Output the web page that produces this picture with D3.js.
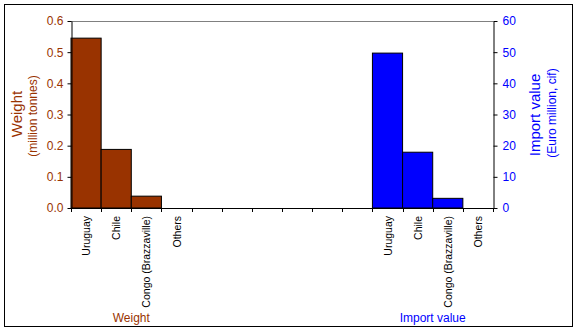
<!DOCTYPE html>
<html><head><meta charset="utf-8">
<script src="https://cdn.jsdelivr.net/npm/d3@7"></script>
<style>body{margin:0;background:#fff}svg text{font-family:"Liberation Sans",Arial,sans-serif}</style>
</head><body><svg id="c" width="577" height="332"></svg>
<script>
const categories = ["Uruguay","Chile","Congo (Brazzaville)","Others"];
const weightValues = [0.545, 0.188, 0.038, 0];
const importValues = [49.7, 17.9, 3.1, 0];
const leftTicks = [0,0.1,0.2,0.3,0.4,0.5,0.6];
const rightTicks = [0,10,20,30,40,50,60];
const gapSlots = 6;

const svg = d3.select("#c");
const L = 71, R = 493, T = 21, B = 208;
svg.append("rect").attr("x",4.5).attr("y",4.5).attr("width",568).attr("height",322).attr("fill","#fff").attr("stroke","#000").attr("stroke-width",1);

const slots = [];
categories.forEach((c,i)=>slots.push({key:"w"+i,label:c,v:weightValues[i],type:"w"}));
for(let i=0;i<gapSlots;i++) slots.push({key:"g"+i,label:"",v:null,type:"g"});
categories.forEach((c,i)=>slots.push({key:"i"+i,label:c,v:importValues[i],type:"i"}));

const x = d3.scaleBand().domain(slots.map(d=>d.key)).range([L,R]).padding(0);
const yL = d3.scaleLinear().domain([0,0.6]).range([B,T]);
const yR = d3.scaleLinear().domain([0,60]).range([B,T]);

// top gridline
svg.append("line").attr("x1",L).attr("x2",R).attr("y1",yL(0.6)+0.5).attr("y2",yL(0.6)+0.5).attr("stroke","#808080");

// bars
svg.selectAll("rect.bar").data(slots.filter(d=>d.type!=="g" && d.v>0)).join("rect")
  .attr("class","bar")
  .attr("x",d=>x(d.key)).attr("width",x.bandwidth())
  .attr("y",d=>d.type==="w"?yL(d.v):yR(d.v))
  .attr("height",d=>B-(d.type==="w"?yL(d.v):yR(d.v)))
  .attr("fill",d=>d.type==="w"?"#993300":"#0000FF")
  .attr("stroke","#000").attr("stroke-width",1);

// left axis
const gl = svg.append("g").attr("transform",`translate(${L+0.5},0)`)
  .call(d3.axisLeft(yL).tickValues(leftTicks).tickFormat(d3.format(".1f")).tickSize(4).tickSizeOuter(0));
gl.selectAll("path,line").attr("stroke","#000");
gl.selectAll("text").attr("fill","#993300").style("font-size","12px").attr("x",-8);

// right axis
const gr = svg.append("g").attr("transform",`translate(${R+0.5},0)`)
  .call(d3.axisRight(yR).tickValues(rightTicks).tickSize(4).tickSizeOuter(0));
gr.selectAll("path,line").attr("stroke","#000");
gr.selectAll("text").attr("fill","#0000FF").style("font-size","12px").attr("x",9);

// bottom axis
const boundaries = slots.map(d=>x(d.key)).concat([R]);
svg.append("line").attr("x1",L).attr("x2",R).attr("y1",B+0.5).attr("y2",B+0.5).attr("stroke","#000");
svg.selectAll("line.bt").data(boundaries).join("line").attr("class","bt")
  .attr("x1",d=>Math.round(d)+0.5).attr("x2",d=>Math.round(d)+0.5).attr("y1",B).attr("y2",B+4).attr("stroke","#000");

svg.selectAll("text.cat").data(slots.filter(d=>d.label)).join("text").attr("class","cat")
  .attr("transform",d=>`translate(${x(d.key)+x.bandwidth()/2+4},216) rotate(-90)`)
  .attr("text-anchor","end").style("font-size","10.5px").attr("fill","#000").text(d=>d.label);

// group labels
const midW = (x("w0")+x("w3")+x.bandwidth())/2;
const midI = (x("i0")+x("i3")+x.bandwidth())/2;
svg.append("text").attr("x",midW).attr("y",322).attr("text-anchor","middle").attr("fill","#993300").style("font-size","12px").text("Weight");
svg.append("text").attr("x",midI).attr("y",322).attr("text-anchor","middle").attr("fill","#0000FF").style("font-size","12px").text("Import value");

// axis titles
svg.append("text").attr("transform","translate(22,114) rotate(-90)").attr("text-anchor","middle").attr("fill","#993300").style("font-size","15px").text("Weight");
svg.append("text").attr("transform","translate(37,116) rotate(-90)").attr("text-anchor","middle").attr("fill","#993300").style("font-size","12px").text("(million tonnes)");
svg.append("text").attr("transform","translate(540,115) rotate(-90)").attr("text-anchor","middle").attr("fill","#0000FF").style("font-size","15px").text("Import value");
svg.append("text").attr("transform","translate(556,113) rotate(-90)").attr("text-anchor","middle").attr("fill","#0000FF").style("font-size","12px").text("(Euro million, cif)");
</script></body></html>
